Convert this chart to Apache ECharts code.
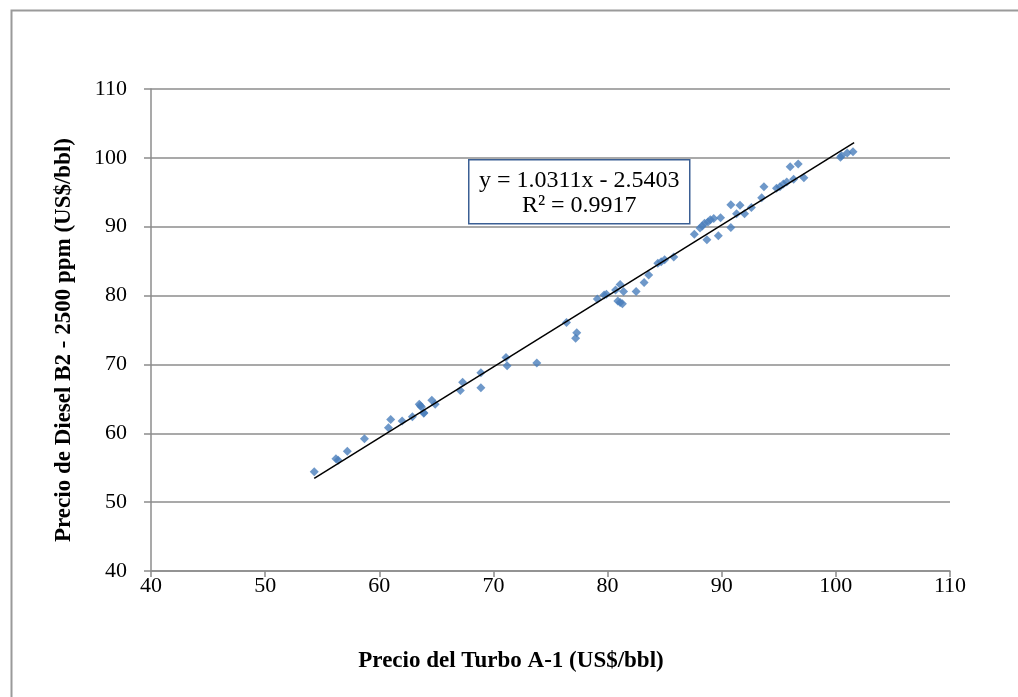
<!DOCTYPE html>
<html>
<head>
<meta charset="utf-8">
<script src="https://cdn.jsdelivr.net/npm/echarts@6/dist/echarts.min.js"></script>
<style>
  html, body { margin: 0; padding: 0; background: #fff; }
  #chart { width: 1018px; height: 697px; }
</style>
</head>
<body>
<div id="chart"></div>
<script>
// precio Turbo A-1 (x) y Diesel B2 (y)
const turboPrecio = [
  54.3, 56.2, 56.4, 57.2, 58.7, 60.8, 61.0, 62.0, 62.9, 63.5, 63.6, 63.7, 63.9, 63.9,
  64.6, 64.9, 67.1, 67.3, 68.9, 68.9, 71.1, 71.2, 73.8, 76.4, 77.3, 77.2, 79.1, 79.7,
  79.9, 80.7, 81.1, 81.4, 80.9, 81.1, 81.3, 82.5, 83.2, 83.6, 84.4, 84.7, 85.0, 85.8,
  87.6, 88.1, 88.3, 88.5, 88.8, 89.0, 89.3, 89.9, 88.7, 89.7, 90.8, 90.8, 91.6, 91.3,
  92.0, 92.6, 93.5, 93.7, 94.8, 95.1, 95.4, 95.7, 96.3, 97.2, 96.0, 96.7, 100.4, 100.5,
  101.0, 101.5
]
const dieselPrecio = [
  54.4, 56.3, 56.1, 57.4, 59.2, 60.8, 62.0, 61.8, 62.4, 64.2, 64.0, 63.8, 63.0, 62.9,
  64.8, 64.2, 66.2, 67.4, 66.6, 68.8, 71.0, 69.8, 70.2, 76.1, 74.6, 73.8, 79.5, 80.1,
  80.2, 80.8, 81.6, 80.6, 79.2, 79.0, 78.8, 80.6, 81.9, 83.0, 84.7, 84.9, 85.2, 85.6,
  88.9, 89.8, 90.1, 90.5, 90.7, 91.0, 91.2, 91.3, 88.1, 88.7, 89.9, 93.2, 93.1, 91.9,
  91.9, 92.8, 94.2, 95.8, 95.6, 95.8, 96.2, 96.5, 96.9, 97.1, 98.7, 99.1, 100.1, 100.3,
  100.7, 100.9
]
// linea de tendencia
const pendiente = 1.0311
const intercepto = -2.5403
const tendenciaX = [54.3, 101.6]
const ecuacion = ['y = 1.0311x - 2.5403', 'R² = 0.9917']
const ticksEje = [40, 110, 10]
const tituloX = 'Precio del Turbo A-1 (US$/bbl)'
const tituloY = 'Precio de Diesel B2 - 2500 ppm (US$/bbl)'

let puntos = turboPrecio.map((x, i) => [x, dieselPrecio[i]])
let tendencia = tendenciaX.map(x => [x, pendiente * x + intercepto])

let myChart = echarts.init(document.getElementById('chart'))
const fuente = 'Liberation Serif'
const gris = '#8c8c8c'

myChart.setOption({
  backgroundColor: '#fff',
  animation: false,
  grid: { left: 151, right: 68, top: 89, bottom: 126 },
  xAxis: {
    type: 'value',
    min: ticksEje[0],
    max: ticksEje[1],
    interval: ticksEje[2],
    axisLine: { lineStyle: { color: gris, width: 1.5 } },
    axisTick: { show: true, length: 6, inside: false, lineStyle: { color: gris, width: 1.5 } },
    axisLabel: { fontFamily: fuente, fontSize: 22, color: '#000', margin: 4 },
    splitLine: { show: false }
  },
  yAxis: {
    type: 'value',
    min: ticksEje[0],
    max: ticksEje[1],
    interval: ticksEje[2],
    axisLine: { show: true, lineStyle: { color: gris, width: 1.5 } },
    axisTick: { show: true, length: 7, inside: false, lineStyle: { color: gris, width: 1.5 } },
    axisLabel: { fontFamily: fuente, fontSize: 22, color: '#000', margin: 24 },
    splitLine: { show: true, lineStyle: { color: gris, width: 1.5 } }
  },
  graphic: [
    {
      type: 'rect',
      left: 9, top: 8,
      shape: { width: 1030, height: 720 },
      style: { fill: 'none', stroke: '#9a9a9a', lineWidth: 2 },
      silent: true
    },
    {
      type: 'text',
      x: 511, y: 661,
      style: { text: tituloX, fontFamily: fuente, fontWeight: 'bold', fontSize: 23, fill: '#000', align: 'center', verticalAlign: 'middle' }
    },
    {
      type: 'text',
      x: 64, y: 340,
      rotation: Math.PI / 2,
      style: { text: tituloY, fontFamily: fuente, fontWeight: 'bold', fontSize: 23, fill: '#000', align: 'center', verticalAlign: 'middle' }
    },
    {
      type: 'group',
      left: 468, top: 159,
      z: 100,
      children: [
        {
          type: 'rect',
          shape: { width: 221, height: 64 },
          style: { fill: '#fff', stroke: '#3b5f94', lineWidth: 1.5 }
        },
        {
          type: 'text',
          x: 110.5, y: 21,
          style: { text: ecuacion[0], fontFamily: fuente, fontSize: 24, fill: '#000', align: 'center', verticalAlign: 'middle' }
        },
        {
          type: 'text',
          x: 110.5, y: 46,
          style: { text: ecuacion[1], fontFamily: fuente, fontSize: 24, fill: '#000', align: 'center', verticalAlign: 'middle' }
        }
      ]
    }
  ],
  series: [
    {
      name: 'Tendencia',
      type: 'line',
      data: tendencia,
      symbol: 'none',
      lineStyle: { color: '#000', width: 1.5 },
      z: 3
    },
    {
      name: 'Precios',
      type: 'scatter',
      data: puntos,
      symbol: 'diamond',
      symbolSize: 9,
      itemStyle: { color: '#4a7ebb' },
      z: 2
    }
  ]
})
</script>
</body>
</html>
